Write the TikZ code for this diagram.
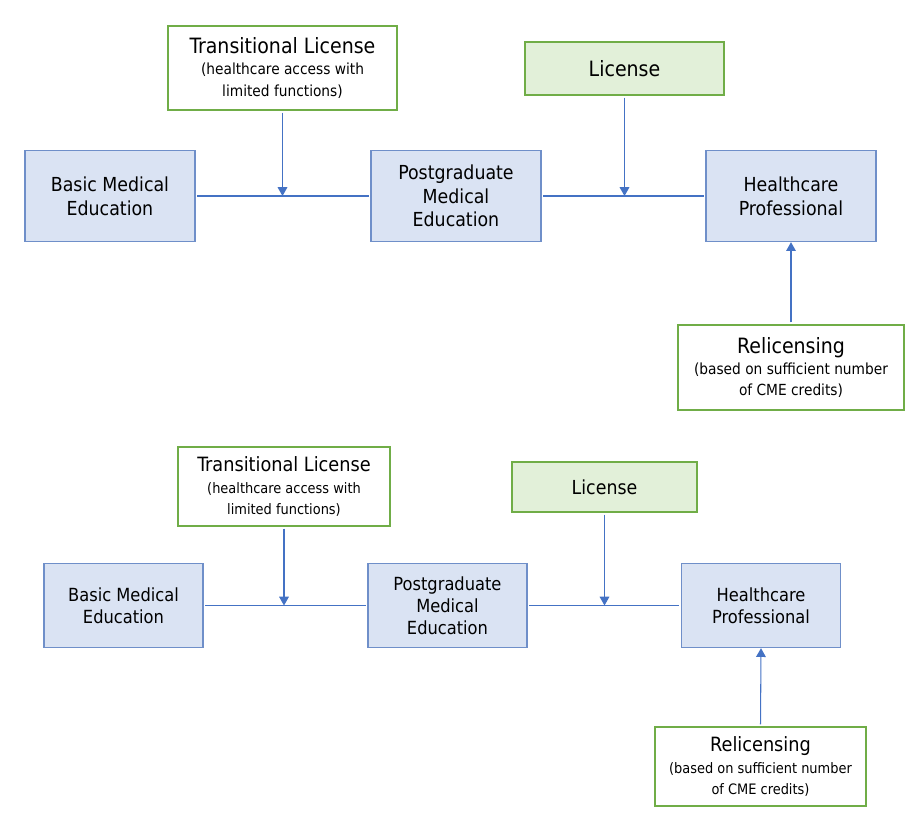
\documentclass[tikz,border=0pt]{standalone}
\usepackage{fontspec}
\setmainfont{DejaVu Sans Condensed}
\usetikzlibrary{arrows.meta}
\definecolor{edufill}{HTML}{DAE3F3}
\definecolor{edudraw}{HTML}{6F8FC9}
\definecolor{licfill}{HTML}{E2F0D9}
\definecolor{licdraw}{HTML}{70AD47}
\definecolor{arrblue}{HTML}{4472C4}
\newcommand{\subA}{\fontsize{8.7}{10.8}\selectfont}
\newcommand{\subB}{\fontsize{8.2}{9.8}\selectfont}
\begin{document}
\begin{tikzpicture}[x=0.02cm,y=-0.02cm,
  edubox/.style={draw=edudraw,fill=edufill,line width=0.8pt,align=center,inner sep=2pt},
  licbox/.style={draw=licdraw,line width=1.1pt,align=center,inner sep=2pt},
  flow/.style={draw=arrblue,line width=0.6pt,shorten <=1pt,shorten >=1pt},
  arr/.style={flow,-{Triangle[width=5.5pt,length=5pt]},shorten >=0pt}]
\useasboundingbox (0,0) rectangle (913,817);

% upper diagram
\node[licbox,minimum width=4.58cm,minimum height=1.68cm] (tl1) at (282.5,68)
  {\fontsize{12}{15}\selectfont Transitional License\\[0pt]
   \subA (healthcare access with\\ \subA limited functions)};
\node[licbox,fill=licfill,minimum width=3.98cm,minimum height=1.06cm] (lic1) at (624.5,68.5)
  {\fontsize{12}{14}\selectfont License};
\node[edubox,minimum width=3.4cm,minimum height=1.82cm,font=\fontsize{11}{13.5}\selectfont] (bme1) at (110,196) {Basic Medical\\ Education};
\node[edubox,minimum width=3.4cm,minimum height=1.82cm,font=\fontsize{11}{13.5}\selectfont] (pme1) at (456,196) {Postgraduate\\ Medical\\ Education};
\node[edubox,minimum width=3.4cm,minimum height=1.82cm,font=\fontsize{11}{13.5}\selectfont] (hcp1) at (791,196) {Healthcare\\ Professional};
\node[licbox,minimum width=4.52cm,minimum height=1.7cm] (rel1) at (791,367.5)
  {\fontsize{12}{15}\selectfont Relicensing\\[0pt]
   \subA (based on sufficient number\\ \subA of CME credits)};

\path[flow] (bme1) -- (pme1);
\path[flow] (pme1) -- (hcp1);
\path[arr] (tl1.south) -- (tl1.south |- bme1.east);
\path[arr] (lic1.south) -- (lic1.south |- pme1.east);
\path[arr] (rel1.north) -- (hcp1.south);

% lower diagram
\node[licbox,minimum width=4.24cm,minimum height=1.58cm] (tl2) at (284,486.5)
  {\fontsize{11.2}{14}\selectfont Transitional License\\[0pt]
   \subB (healthcare access with\\ \subB limited functions)};
\node[licbox,fill=licfill,minimum width=3.7cm,minimum height=1.0cm] (lic2) at (604.5,487)
  {\fontsize{11}{13}\selectfont License};
\node[edubox,minimum width=3.18cm,minimum height=1.68cm,font=\fontsize{10.3}{12.6}\selectfont] (bme2) at (123.5,605.5) {Basic Medical\\ Education};
\node[edubox,minimum width=3.18cm,minimum height=1.68cm,font=\fontsize{10.3}{12.6}\selectfont] (pme2) at (447.5,605.5) {Postgraduate\\ Medical\\ Education};
\node[edubox,minimum width=3.18cm,minimum height=1.68cm,font=\fontsize{10.3}{12.6}\selectfont] (hcp2) at (761,605.5) {Healthcare\\ Professional};
\node[licbox,minimum width=4.22cm,minimum height=1.58cm] (rel2) at (760.5,766.5)
  {\fontsize{11.2}{14}\selectfont Relicensing\\[0pt]
   \subB (based on sufficient number\\ \subB of CME credits)};

\path[flow] (bme2) -- (pme2);
\path[flow] (pme2) -- (hcp2);
\path[arr] (tl2.south) -- (tl2.south |- bme2.east);
\path[arr] (lic2.south) -- (lic2.south |- pme2.east);
\path[arr] (rel2.north) -- (hcp2.south);
\end{tikzpicture}
\end{document}
